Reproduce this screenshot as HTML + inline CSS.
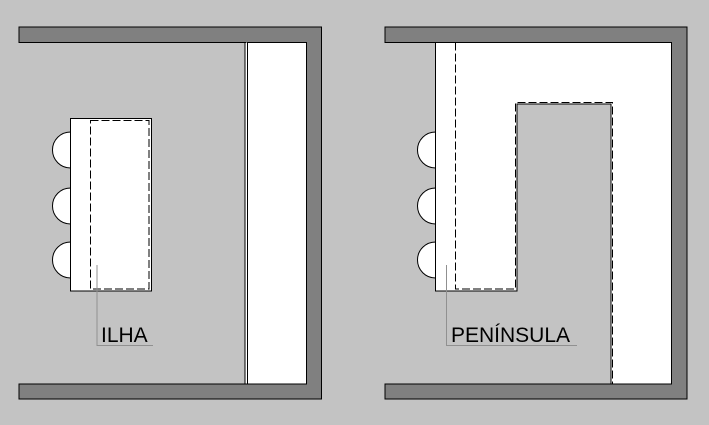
<!DOCTYPE html>
<html><head><meta charset="utf-8"><style>html,body{margin:0;padding:0;background:#c3c3c3}svg{display:block}</style></head>
<body>
<svg width="709" height="425" viewBox="0 0 709 425" xmlns="http://www.w3.org/2000/svg">
<rect width="709" height="425" fill="#c3c3c3"/>
<!-- LEFT PANEL -->
<path d="M19,27 H321.5 V399 H19 V384 H306.5 V42.5 H19 Z" fill="#808080" stroke="#000" stroke-width="1"/>
<rect x="245" y="42.5" width="61.5" height="341.5" fill="#fff" stroke="#000" stroke-width="1"/>
<line x1="247.5" y1="42.5" x2="247.5" y2="384" stroke="#000" stroke-width="1"/>
<line x1="246.5" y1="42.5" x2="246.5" y2="384" stroke="#fff" stroke-width="1" stroke-dasharray="1,5"/>
<!-- stools -->
<g fill="#fff" stroke="#000" stroke-width="1">
<path d="M70.5,132 A18,18 0 1 0 70.5,168 Z"/>
<path d="M70.5,188 A18,18 0 1 0 70.5,224 Z"/>
<path d="M70.5,242 A18,18 0 1 0 70.5,278 Z"/>
<path d="M435.5,132 A18,18 0 1 0 435.5,168 Z"/>
<path d="M435.5,188 A18,18 0 1 0 435.5,224 Z"/>
<path d="M435.5,242 A18,18 0 1 0 435.5,278 Z"/>
</g>
<rect x="70.5" y="118.5" width="81" height="172.5" fill="#fff" stroke="#000" stroke-width="1"/>
<rect x="90.5" y="120.5" width="58.5" height="168.5" fill="none" stroke="#000" stroke-width="1" stroke-dasharray="8,3"/>
<polyline points="97,265 97,345.5 153,345.5" fill="none" stroke="#909090" stroke-width="1"/>
<text x="101" y="342" font-family="Liberation Sans, sans-serif" font-size="21" fill="#000">ILHA</text>
<!-- RIGHT PANEL -->
<path d="M385,27 H687 V399 H385 V384 H671.5 V42.5 H385 Z" fill="#808080" stroke="#000" stroke-width="1"/>
<path d="M435.5,42.5 H671.5 V384 H611 V104 H517 V291 H435.5 Z" fill="#fff" stroke="#000" stroke-width="1"/>
<polyline points="455.5,42.5 455.5,289 515.5,289 515.5,102.5 612.5,102.5 612.5,384" fill="none" stroke="#000" stroke-width="1" stroke-dasharray="8,3"/>
<polyline points="446.5,265 446.5,345.5 577,345.5" fill="none" stroke="#909090" stroke-width="1"/>
<text x="451" y="342" font-family="Liberation Sans, sans-serif" font-size="21" fill="#000">PENÍNSULA</text>
</svg>
</body></html>
